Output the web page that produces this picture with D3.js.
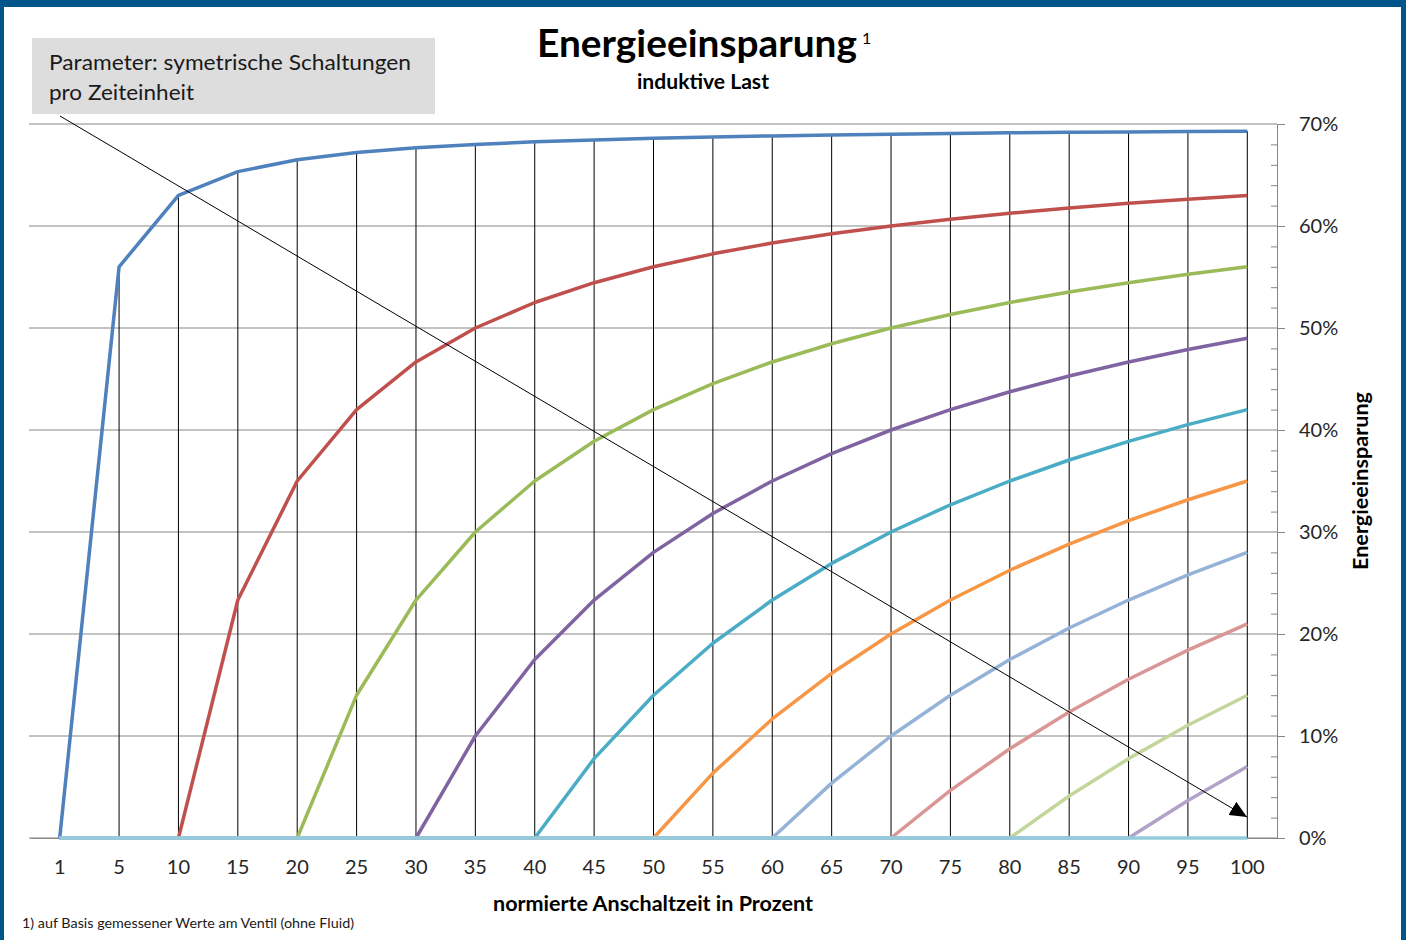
<!DOCTYPE html>
<html><head><meta charset="utf-8">
<script src="https://cdn.jsdelivr.net/npm/d3@7"></script>
<style>
html,body{margin:0;padding:0;background:#fff;}
svg{display:block;font-family:Lato,"Open Sans",sans-serif;}
</style></head>
<body>
<svg id="c" width="1406" height="940"></svg>
<script>
const categories = ["1","5","10","15","20","25","30","35","40","45","50","55","60","65","70","75","80","85","90","95","100"];
const yTicks = [0,0.1,0.2,0.3,0.4,0.5,0.6,0.7];
const seriesNames = ["1","10","20","30","40","50","60","70","80","90","100"];
const colors = ["#4F81BD","#C0504D","#9BBB59","#8064A2","#4BACC6","#F79646","#95B3D7","#D99694","#C3D69B","#B3A2C7","#93CDDD"];
// values in percent, one per category
const s1  = [0,56.0,63.0,65.33,66.5,67.2,67.67,68.0,68.25,68.44,68.6,68.73,68.83,68.92,69.0,69.07,69.13,69.18,69.22,69.26,69.3];
const s10 = [0,0,0,23.33,35.0,42.0,46.67,50.0,52.5,54.44,56.0,57.27,58.33,59.23,60.0,60.67,61.25,61.76,62.22,62.63,63.0];
const s20 = [0,0,0,0,0,14.0,23.33,30.0,35.0,38.89,42.0,44.55,46.67,48.46,50.0,51.33,52.5,53.53,54.44,55.26,56.0];
const s30 = [0,0,0,0,0,0,0,10.0,17.5,23.33,28.0,31.82,35.0,37.69,40.0,42.0,43.75,45.29,46.67,47.89,49.0];
const s40 = [0,0,0,0,0,0,0,0,0,7.78,14.0,19.09,23.33,26.92,30.0,32.67,35.0,37.06,38.89,40.53,42.0];
const s50 = [0,0,0,0,0,0,0,0,0,0,0,6.36,11.67,16.15,20.0,23.33,26.25,28.82,31.11,33.16,35.0];
const s60 = [0,0,0,0,0,0,0,0,0,0,0,0,0,5.38,10.0,14.0,17.5,20.59,23.33,25.79,28.0];
const s70 = [0,0,0,0,0,0,0,0,0,0,0,0,0,0,0,4.67,8.75,12.35,15.56,18.42,21.0];
const s80 = [0,0,0,0,0,0,0,0,0,0,0,0,0,0,0,0,0,4.12,7.78,11.05,14.0];
const s90 = [0,0,0,0,0,0,0,0,0,0,0,0,0,0,0,0,0,0,0,3.68,7.0];
const s100= [0,0,0,0,0,0,0,0,0,0,0,0,0,0,0,0,0,0,0,0,0];
const allSeries = [s1,s10,s20,s30,s40,s50,s60,s70,s80,s90,s100];

const svg = d3.select("#c");
const x = d3.scaleBand().domain(categories).range([30,1277]).padding(0);
const xc = c => x(c) + x.bandwidth()/2;
const y = d3.scaleLinear().domain([0,0.7]).range([838,124]);

// frame
svg.append("rect").attr("x",0).attr("y",0).attr("width",1406).attr("height",7).attr("fill","#00558B");
svg.append("rect").attr("x",0).attr("y",0).attr("width",4).attr("height",940).attr("fill","#00558B");
svg.append("rect").attr("x",1401).attr("y",0).attr("width",5).attr("height",940).attr("fill","#00558B");

// gridlines
svg.append("g").selectAll("line").data(yTicks).join("line")
  .attr("x1",29).attr("x2",1277).attr("y1",d=>y(d)).attr("y2",d=>y(d))
  .attr("stroke","#868686").attr("stroke-width",1);

// right axis major
const ya = svg.append("g").attr("transform","translate(1277,0)")
  .call(d3.axisRight(y).tickValues(yTicks).tickFormat(d3.format(".0%")).tickSize(8).tickPadding(14));
ya.select(".domain").attr("stroke","#868686");
ya.selectAll(".tick line").attr("stroke","#868686");
ya.selectAll("text").attr("font-size",20).attr("fill","#262626").attr("font-family","Lato");
// minor ticks
const minor = d3.range(0,36).map(i=>i*0.02).filter(v=>Math.abs(v*10-Math.round(v*10))>1e-6);
const ym = svg.append("g").attr("transform","translate(1277,0)")
  .call(d3.axisLeft(y).tickValues(minor).tickFormat("").tickSize(6));
ym.select(".domain").remove();
ym.selectAll(".tick line").attr("stroke","#868686");

// x axis
const xa = svg.append("g").attr("transform","translate(0,838)")
  .call(d3.axisBottom(x).tickSize(0).tickPadding(22));
xa.select(".domain").attr("stroke","#868686");
xa.selectAll("text").attr("font-size",20).attr("fill","#262626").attr("font-family","Lato");

// drop lines
const maxVals = categories.map((c,i)=>d3.max(allSeries,s=>s[i]));
svg.append("g").selectAll("line").data(categories.filter((c,i)=>maxVals[i]>0)).join("line")
  .attr("x1",d=>xc(d)).attr("x2",d=>xc(d))
  .attr("y1",y(0)).attr("y2",d=>y(maxVals[categories.indexOf(d)]/100))
  .attr("stroke","#000").attr("stroke-width",1);

// series
const line = d3.line().x((d,i)=>xc(categories[i])).y(d=>y(d/100));
svg.append("g").selectAll("path").data(allSeries).join("path")
  .attr("d",d=>line(d)).attr("fill","none")
  .attr("stroke",(d,i)=>colors[i]).attr("stroke-width",3.5).attr("stroke-linejoin","round");

// arrow
svg.append("defs").append("marker").attr("id","ah").attr("viewBox","0 0 10 10")
  .attr("refX",10).attr("refY",5).attr("markerWidth",17).attr("markerHeight",17)
  .attr("markerUnits","userSpaceOnUse").attr("orient","auto")
  .append("path").attr("d","M0,0.5 L10,5 L0,9.5 Z").attr("fill","#000");
svg.append("line").attr("x1",60).attr("y1",116).attr("x2",1247).attr("y2",817)
  .attr("stroke","#000").attr("stroke-width",1).attr("marker-end","url(#ah)");

// parameter box
svg.append("rect").attr("x",32).attr("y",38).attr("width",403).attr("height",76).attr("fill","#DDDDDD");
svg.append("text").attr("x",49).attr("y",70).attr("font-size",22).attr("fill","#1a1a1a")
  .attr("textLength",362).attr("lengthAdjust","spacingAndGlyphs").text("Parameter: symetrische Schaltungen");
svg.append("text").attr("x",49).attr("y",100).attr("font-size",22).attr("fill","#1a1a1a")
  .attr("textLength",145).attr("lengthAdjust","spacingAndGlyphs").text("pro Zeiteinheit");

// title
svg.append("text").attr("x",537).attr("y",57).attr("font-size",38).attr("font-weight","bold").attr("fill","#000")
  .attr("textLength",320).attr("lengthAdjust","spacingAndGlyphs").text("Energieeinsparung");
svg.append("text").attr("x",862).attr("y",44).attr("font-size",16).attr("fill","#000").text("1");
svg.append("text").attr("x",703).attr("y",89).attr("text-anchor","middle").attr("font-size",20).attr("font-weight","bold")
  .attr("textLength",132).attr("lengthAdjust","spacingAndGlyphs").text("induktive Last");

// axis titles
svg.append("text").attr("transform","translate(1368,481) rotate(-90)").attr("text-anchor","middle")
  .attr("font-size",20).attr("font-weight","bold")
  .attr("textLength",178).attr("lengthAdjust","spacingAndGlyphs").text("Energieeinsparung");
svg.append("text").attr("x",653).attr("y",911).attr("text-anchor","middle").attr("font-size",20).attr("font-weight","bold")
  .attr("textLength",320).attr("lengthAdjust","spacingAndGlyphs").text("normierte Anschaltzeit in Prozent");

// footnote
svg.append("text").attr("x",22).attr("y",928).attr("font-size",14).attr("fill","#1a1a1a")
  .attr("textLength",332).attr("lengthAdjust","spacingAndGlyphs").text("1) auf Basis gemessener Werte am Ventil (ohne  Fluid)");
</script>
</body></html>
